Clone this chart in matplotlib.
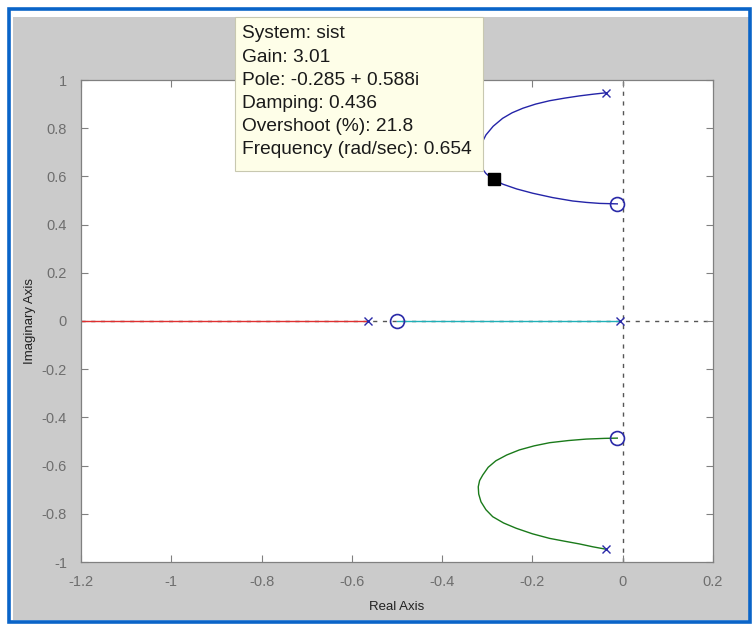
import matplotlib.pyplot as plt
from matplotlib.patches import Rectangle

plt.rcParams['font.family'] = ['Liberation Sans', 'DejaVu Sans']
plt.rcParams['axes.unicode_minus'] = False

# -------------------------
# DATA (read off the reference root locus)
# -------------------------
# upper complex branch: pole -> turning point -> zero
upper_re = [-0.037, -0.066, -0.096, -0.128, -0.162, -0.193, -0.221, -0.245,
            -0.266, -0.287, -0.303, -0.313, -0.318, -0.314, -0.303, -0.290,
            -0.266, -0.235, -0.199, -0.155, -0.111, -0.080, -0.051, -0.012]
upper_im = [0.947, 0.941, 0.934, 0.925, 0.914, 0.900, 0.883, 0.864,
            0.841, 0.808, 0.772, 0.735, 0.690, 0.640, 0.612, 0.592,
            0.568, 0.548, 0.530, 0.512, 0.498, 0.492, 0.488, 0.486]
# lower complex branch: zero -> turning point -> pole
lower_re = [-0.012, -0.040, -0.081, -0.120, -0.162, -0.196, -0.229, -0.257,
            -0.281, -0.298, -0.310, -0.317, -0.320, -0.319, -0.314, -0.303,
            -0.288, -0.264, -0.236, -0.200, -0.162, -0.128, -0.096, -0.066,
            -0.037]
lower_im = [-0.486, -0.487, -0.490, -0.496, -0.505, -0.518, -0.535, -0.556,
            -0.580, -0.607, -0.639, -0.662, -0.688, -0.718, -0.750, -0.783,
            -0.812, -0.838, -0.860, -0.883, -0.902, -0.914, -0.925, -0.937,
            -0.947]
# real-axis branches
red_re = [-1.3, -0.565]
cyan_re = [-0.5, -0.006]

poles_re = [-0.037, -0.037, -0.565, -0.006]
poles_im = [0.947, -0.947, 0.0, 0.0]
zeros_re = [-0.012, -0.012, -0.5]
zeros_im = [0.486, -0.486, 0.0]

sel_pole = (-0.285, 0.588)
tip_lines = ["System: sist", "Gain: 3.01", "Pole: -0.285 + 0.588i",
             "Damping: 0.436", "Overshoot (%): 21.8",
             "Frequency (rad/sec): 0.654"]

x_ticks = [-1.2, -1, -0.8, -0.6, -0.4, -0.2, 0, 0.2]
y_ticks = [-1, -0.8, -0.6, -0.4, -0.2, 0, 0.2, 0.4, 0.6, 0.8, 1]
x_labels = ["-1.2", "-1", "-0.8", "-0.6", "-0.4", "-0.2", "0", "0.2"]
y_labels = ["-1", "-0.8", "-0.6", "-0.4", "-0.2", "0", "0.2", "0.4", "0.6", "0.8", "1"]

W, H = 754, 624


def fx(px):
    return px / W


def fy(py):
    return 1 - py / H


fig = plt.figure(figsize=(W / 100, H / 100), dpi=100, facecolor='white')

# window frame: blue border with grey panel inside
fig.patches.append(Rectangle((fx(8.5), fy(621.5)), fx(741.5), 613 / H,
                             transform=fig.transFigure, facecolor='none',
                             edgecolor='#0a64c8', linewidth=2.6, zorder=-5))
fig.patches.append(Rectangle((fx(13), fy(620)), fx(736), 603 / H,
                             transform=fig.transFigure, facecolor='#cbcbcb',
                             edgecolor='none', zorder=-6))

ax = fig.add_axes([fx(81), fy(562), fx(713) - fx(81), (562 - 80) / H])
ax.set_zorder(1)
ax.set_facecolor('white')

gray_axis = '#808080'
ax.axhline(0, color='#555555', lw=1.0, ls=(0, (3, 4)), zorder=1)
ax.axvline(0, color='#555555', lw=1.0, ls=(0, (3, 4)), zorder=1)

ax.plot(red_re, [0, 0], color='#e03030', lw=1.0, zorder=2)
ax.plot(cyan_re, [0, 0], color='#20b0b8', lw=1.0, zorder=2)
ax.plot(upper_re, upper_im, color='#2424a8', lw=1.0, zorder=2)
ax.plot(lower_re, lower_im, color='#1a7a1a', lw=1.0, zorder=2)

ax.plot(poles_re, poles_im, ls='none', marker='x', ms=5.5, mew=1.0,
        color='#2a2aa8', zorder=3)
ax.plot(zeros_re, zeros_im, ls='none', marker='o', ms=10, mew=1.2,
        mfc='none', mec='#2a2aa8', zorder=3)
ax.plot([sel_pole[0]], [sel_pole[1]], ls='none', marker='s', ms=9,
        color='black', zorder=4)

ax.set_xlim(-1.2, 0.2)
ax.set_ylim(-1, 1)
ax.set_xticks(x_ticks)
ax.set_xticklabels(x_labels)
ax.set_yticks(y_ticks)
ax.set_yticklabels(y_labels)
ax.tick_params(direction='in', length=5, width=0.8, color=gray_axis,
               labelcolor='#6e6e6e', labelsize=10.5, top=True, right=True)
ax.tick_params(axis='x', pad=9)
ax.tick_params(axis='y', pad=10)
for s in ax.spines.values():
    s.set_color(gray_axis)
    s.set_linewidth(0.9)

ax.set_xlabel("Real Axis", fontsize=9.5, color='#222222', labelpad=9)
ax.set_ylabel("Imaginary Axis", fontsize=9.5, color='#222222', labelpad=4)

# data tip box (drawn on top, overlapping the grey frame)
fig.patches.append(Rectangle((fx(235), fy(171)), fx(483) - fx(235), (171 - 17) / H,
                             transform=fig.transFigure, facecolor='#fefee8',
                             edgecolor='#c8c8b0', linewidth=0.8, zorder=10))
for i, line in enumerate(tip_lines):
    fig.text(fx(242), fy(34 + 23.2 * i), line, fontsize=13.8, color='#1a1a1a',
             va='center', ha='left', zorder=11)

fig.savefig("out.png", dpi=100, facecolor=fig.get_facecolor())
